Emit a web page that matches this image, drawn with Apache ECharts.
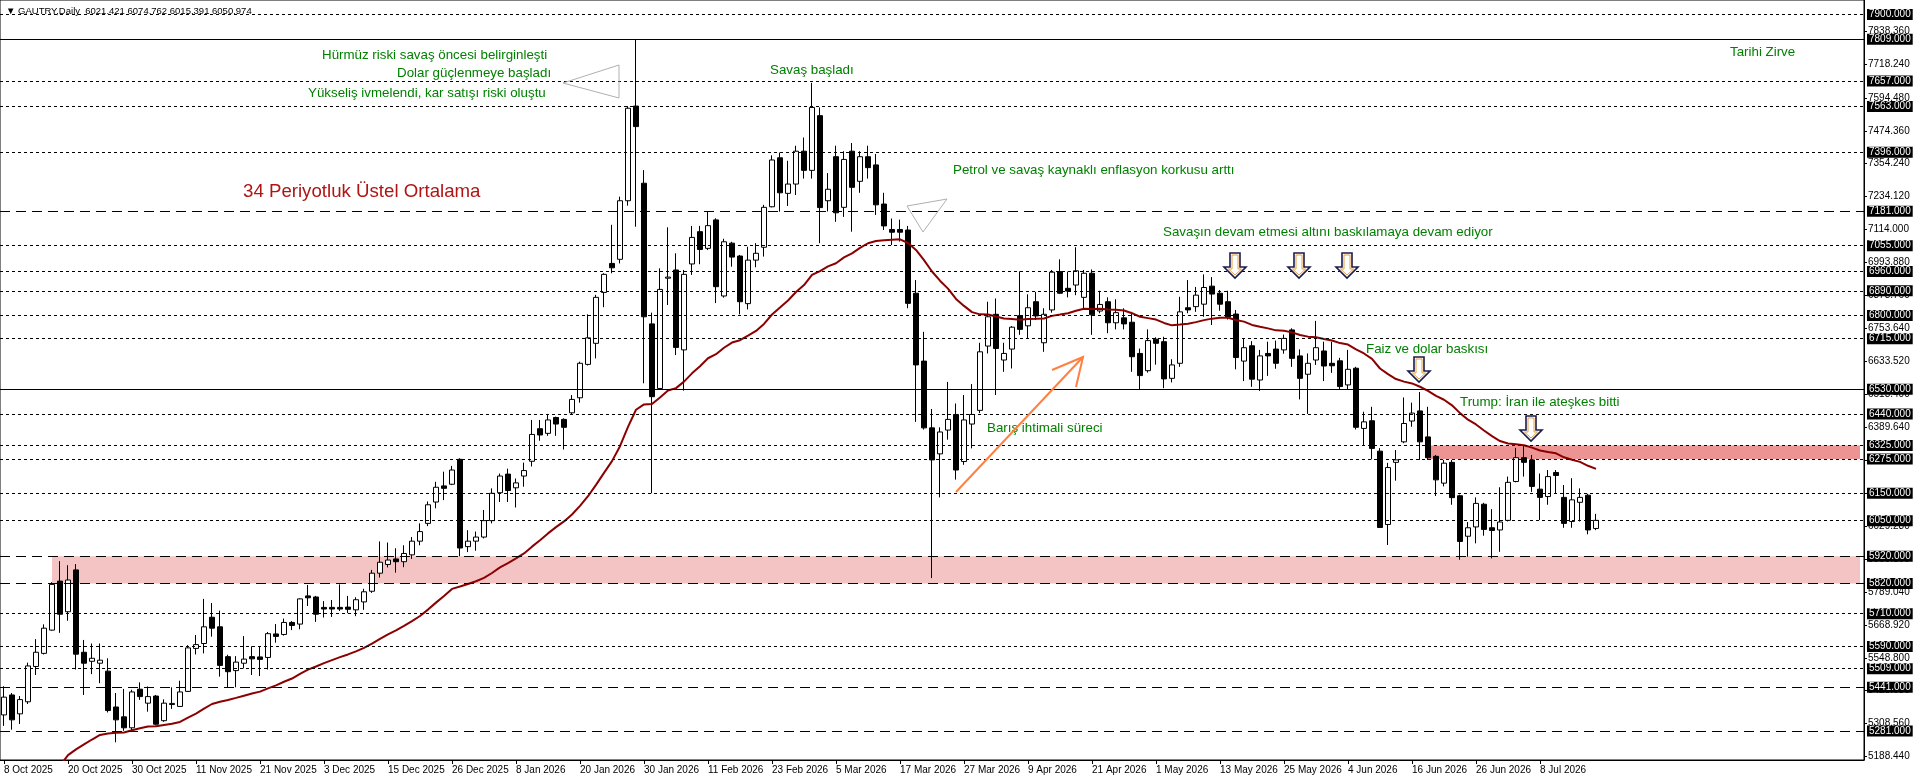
<!DOCTYPE html>
<html>
<head>
<meta charset="utf-8">
<script src="https://cdn.jsdelivr.net/npm/echarts@6/dist/echarts.min.js"></script>
<style>
html,body{margin:0;padding:0;background:#fff;}
#main{width:1916px;height:781px;}
</style>
</head>
<body>
<div id="main"></div>
<script>
// GAUTRY gunluk mumlar
var opens = [5340,5413,5344,5388,5517,5565,5650,5829,5717,5870,5569,5536,5529,5500,5369,5333,5293,5434,5383,5409,
5319,5378,5371,5426,5583,5601,5697,5662,5553,5502,5529,5553,5552,5550,5636,5634,5678,5672,5775,5771,
5733,5733,5733,5734,5724,5753,5792,5858,5890,5910,5900,5925,5975,6040,6118,6177,6183,6274,5955,5975,
5990,6050,6152,6220,6170,6213,6267,6386,6369,6427,6420,6444,6499,6621,6698,6884,6990,7005,7219,7565,
7283,6769,6533,6936,6966,6674,6988,7106,7045,7149,6871,7064,7017,6843,7002,7049,7197,7376,7246,7280,
7400,7330,7530,7219,7380,7195,7400,7290,7380,7350,7207,7114,7114,7112,6881,6633,6389,6294,6381,6438,
6266,6403,6453,6688,6804,6637,6677,6799,6762,6850,6700,6820,6960,6899,6911,6866,6954,6816,6850,6773,
6791,6775,6661,6598,6713,6704,6570,6625,6828,6832,6841,6907,6881,6850,6805,6633,6689,6564,6661,6677,
6674,6747,6652,6585,6637,6670,6625,6634,6546,6607,6387,6415,6304,6036,6263,6338,6414,6451,6356,6285,
6187,6263,6141,5993,6027,6110,6024,6016,6051,6193,6280,6272,6165,6138,6226,6135,6047,6117,6143,6021.421];
var highs = [5445,5420,5409,5531,5617,5671,5825,5902,5887,5891,5614,5601,5601,5547,5420,5435,5432,5459,5444,5413,
5397,5441,5465,5595,5632,5764,5749,5721,5560,5555,5628,5591,5592,5643,5672,5692,5683,5766,5815,5775,
5756,5760,5817,5775,5770,5801,5870,5974,5970,5949,5960,5990,6040,6120,6192,6229,6250,6278,6015,6010,
6089,6168,6222,6240,6204,6262,6418,6418,6440,6430,6424,6509,6631,6804,6875,6954,7131,7234,7565,7809,
7331,6810,6972,7122,7027,6966,7127,7127,7179,7155,7080,7069,7021,7051,7064,7204,7385,7395,7365,7420,
7450,7650,7560,7320,7420,7400,7430,7400,7420,7390,7248,7154,7150,7127,6929,6740,6458,6391,6557,6478,
6509,6549,6700,6850,6862,6700,6761,6961,6877,6886,6826,6966,7005,6960,7049,6966,6968,6890,6866,6859,
6826,6813,6679,6749,6720,6722,6640,6868,6929,6904,6950,6940,6893,6890,6820,6716,6706,6674,6704,6708,
6730,6753,6676,6661,6780,6704,6704,6645,6674,6612,6448,6466,6315,6261,6308,6500,6481,6520,6466,6290,
6272,6272,6145,6045,6135,6115,6092,6172,6211,6316,6325,6290,6222,6235,6235,6180,6205,6168,6148,6074.762];
var lows = [5300,5286,5307,5380,5486,5561,5648,5640,5684,5506,5413,5489,5456,5349,5240,5282,5282,5395,5352,5302,
5315,5362,5371,5424,5561,5565,5626,5480,5441,5441,5510,5486,5482,5506,5604,5630,5650,5653,5738,5680,
5696,5698,5720,5712,5701,5724,5786,5842,5879,5860,5880,5910,5960,6030,6095,6125,6180,5920,5935,5940,
5985,6040,6118,6118,6098,6174,6248,6342,6360,6360,6310,6436,6481,6617,6643,6830,6954,6990,7201,7124,
6552,6150,6530,6838,6655,6525,6948,6987,7039,6845,6865,6978,6804,6822,6976,7015,7195,7179,7200,7240,
7300,7300,7064,7180,7142,7160,7106,7248,7300,7167,7112,7057,7070,6826,6411,6383,5840,6135,6346,6200,
6254,6314,6443,6661,6509,6594,6606,6729,6716,6783,6667,6810,6878,6866,6874,6826,6729,6808,6735,6749,
6749,6594,6530,6591,6620,6534,6555,6612,6808,6813,6795,6765,6817,6785,6603,6560,6539,6524,6579,6605,
6660,6612,6493,6440,6619,6560,6590,6530,6530,6383,6326,6274,6025,5961,6196,6333,6393,6272,6272,6140,
6175,6108,5907,5918,5967,5995,5912,5936,6047,6190,6211,6155,6052,6108,6150,6024,6024,6047,6000,6015.391];
var closes = [5405,5322,5396,5519,5569,5657,5817,5708,5833,5562,5529,5547,5540,5356,5322,5293,5424,5407,5407,5306,
5383,5382,5424,5585,5597,5662,5657,5521,5498,5533,5544,5545,5543,5637,5627,5678,5667,5764,5768,5708,
5727,5727,5727,5726,5761,5790,5858,5898,5906,5900,5930,5975,6010,6108,6172,6168,6235,5950,5975,5990,
6050,6150,6213,6160,6188,6233,6365,6363,6418,6403,6391,6493,6625,6718,6866,6950,6974,7219,7557,7490,
6795,6503,6895,6940,6683,6950,7085,7041,7128,6905,7069,7013,6850,7002,7027,7195,7368,7248,7280,7400,
7330,7560,7194,7261,7175,7370,7268,7380,7340,7204,7127,7104,7104,6844,6619,6389,6272,6374,6420,6235,
6418,6438,6667,6795,6679,6661,6757,6749,6828,6798,6804,6958,6881,6889,6963,6954,6802,6840,6773,6810,
6769,6649,6580,6708,6698,6568,6619,6813,6820,6874,6902,6878,6841,6793,6646,6682,6567,6652,6652,6625,
6716,6643,6570,6625,6682,6615,6616,6540,6603,6391,6411,6314,6025,6244,6272,6405,6443,6338,6280,6199,
6260,6134,5974,6024,6113,6018,6014,6045,6190,6280,6263,6175,6135,6211,6215,6040,6126,6135,6016,6050.974];

var startDate = '2025-10-08';
var holidays = ['2025-12-25', '2026-01-01', '2026-04-03'];
var shiftBars = 33;

// yatay seviyeler
var levelsDot = [7900, 7657, 7563, 7396, 7055, 6960, 6890, 6800, 6715, 6440, 6325, 6275, 6150, 6050, 5710, 5590, 5509];
var levelsDash = [7181, 5920, 5820, 5441, 5281];
var levelsSolid = [7809, 6530];
var priceTicks = [7838.36, 7718.24, 7594.48, 7474.36, 7354.24, 7234.12, 7114.00, 6993.88, 6873.76, 6753.64, 6633.52,
  6513.40, 6389.64, 6269.52, 6149.40, 6029.28, 5909.16, 5789.04, 5668.92, 5548.80, 5428.68, 5308.56, 5188.44];

var emaPeriod = 34;
var emaSeed = 4905;

var months = ['Jan','Feb','Mar','Apr','May','Jun','Jul','Aug','Sep','Oct','Nov','Dec'];
var dates = [];
var d = new Date(startDate + 'T00:00:00Z');
while (dates.length < opens.length) {
  var wd = d.getUTCDay();
  var iso = d.toISOString().slice(0, 10);
  if (wd !== 0 && wd !== 6 && holidays.indexOf(iso) < 0) {
    dates.push(d.getUTCDate() + ' ' + months[d.getUTCMonth()] + ' ' + d.getUTCFullYear());
  }
  d.setUTCDate(d.getUTCDate() + 1);
}
var categories = dates.slice();
for (var s = 0; s < shiftBars; s++) categories.push('_' + s);

var candles = opens.map(function (o, i) { return [o, closes[i], lows[i], highs[i]]; });

// 34 periyot ustel ortalama
var ema = [];
var prev = emaSeed, k = 2 / (emaPeriod + 1);
closes.forEach(function (c) { prev = prev + k * (c - prev); ema.push(+prev.toFixed(2)); });

var FONT = '"Liberation Sans", Arial, sans-serif';
var dotType = [3, 3], dashType = [10, 6];

function levelItem(v, type) {
  return { yAxis: v, lineStyle: { type: type, color: '#000', width: 1 } };
}
var levelData = [];
levelsDot.forEach(function (v) { levelData.push(levelItem(v, dotType)); });
levelsDash.forEach(function (v) { levelData.push(levelItem(v, dashType)); });
levelsSolid.forEach(function (v) { levelData.push(levelItem(v, 'solid')); });

function tickFilter(idx, val) { return idx % 8 === 0 && String(val).charAt(0) !== '_'; }

var last = opens.length - 1;
var header = '\u25BC GAUTRY,Daily  ' + opens[last].toFixed(3) + ' ' + highs[last].toFixed(3) + ' ' +
  lows[last].toFixed(3) + ' ' + closes[last].toFixed(3);

var green = '#008000';
function txt(x, y, text, color, size) {
  return { type: 'text', x: x, y: y, z: 100,
    style: { text: text, fill: color || green, font: (size || 13.33) + 'px ' + FONT, verticalAlign: 'middle', textVerticalAlign: 'middle' } };
}
function downArrow(cx, top) {
  var p = [[-5, 0], [5, 0], [5, 14], [11, 14], [0, 25], [-11, 14], [-5, 14]];
  var q = [[-3, 2], [3, 2], [3, 16], [6.5, 16], [0, 22], [-6.5, 16], [-3, 16]];
  return [
    { type: 'polygon', z: 100, shape: { points: p.map(function (a) { return [cx + a[0], top + a[1]]; }) },
      style: { fill: '#fff', stroke: '#1c1c4c', lineWidth: 1.6 } },
    { type: 'polyline', z: 101, shape: { points: q.concat([q[0]]).map(function (a) { return [cx + a[0], top + a[1]]; }) },
      style: { fill: null, stroke: '#e8a040', lineWidth: 1 } }
  ];
}

var graphics = [
  { type: 'text', x: 6, y: 11, z: 100, style: { text: header, fill: '#000', font: '9.5px ' + FONT, verticalAlign: 'middle', textVerticalAlign: 'middle' } },
  txt(322, 55, 'Hürmüz riski savaş öncesi belirginleşti'),
  txt(397, 73, 'Dolar güçlenmeye başladı'),
  txt(308, 93, 'Yükseliş ivmelendi, kar satışı riski oluştu'),
  txt(770, 70, 'Savaş başladı'),
  txt(1730, 52, 'Tarihi Zirve'),
  txt(243, 192, '34 Periyotluk Üstel Ortalama', '#b01515', 18.67),
  txt(953, 170, 'Petrol ve savaş kaynaklı enflasyon korkusu arttı'),
  txt(1163, 232, 'Savaşın devam etmesi altını baskılamaya devam ediyor'),
  txt(1366, 349, 'Faiz ve dolar baskısı'),
  txt(1460, 402, 'Trump: İran ile ateşkes bitti'),
  txt(987, 428, 'Barış ihtimali süreci'),
  { type: 'polygon', z: 100, shape: { points: [[619, 65], [619, 98], [563, 83]] }, style: { fill: null, stroke: '#b0b0b0', lineWidth: 1 } },
  { type: 'polygon', z: 100, shape: { points: [[907, 206], [947, 199], [923, 232]] }, style: { fill: null, stroke: '#b0b0b0', lineWidth: 1 } },
  { type: 'polyline', z: 100, shape: { points: [[956, 492], [1083, 357]] }, style: { stroke: '#ff8040', lineWidth: 2 } },
  { type: 'polyline', z: 100, shape: { points: [[1052, 370], [1083, 357], [1076, 387]] }, style: { stroke: '#ff8040', lineWidth: 2, fill: null } }
].concat(downArrow(1235, 253), downArrow(1299, 253), downArrow(1347, 253), downArrow(1419, 357), downArrow(1531, 416));

var myChart = echarts.init(document.getElementById('main'));
var option = {
  animation: false,
  backgroundColor: '#fff',
  grid: { left: 0, right: 52, top: 0, bottom: 21, show: true, borderColor: '#000', borderWidth: 1, backgroundColor: 'transparent' },
  xAxis: {
    type: 'category',
    data: categories,
    boundaryGap: true,
    axisLine: { show: true, lineStyle: { color: '#000' } },
    axisTick: { show: true, interval: tickFilter, alignWithLabel: true, length: 4, lineStyle: { color: '#000' } },
    axisLabel: { interval: tickFilter, align: 'left', margin: 5, color: '#000', fontFamily: FONT, fontSize: 10 },
    splitLine: { show: false }
  },
  yAxis: {
    type: 'value',
    position: 'right',
    min: 5175.3,
    max: 7952.6,
    axisLine: { show: true, lineStyle: { color: '#000' } },
    axisTick: { show: true, customValues: priceTicks, length: 3, lineStyle: { color: '#000' } },
    axisLabel: { customValues: priceTicks, formatter: function (v) { return v.toFixed(3); }, color: '#000', fontFamily: FONT, fontSize: 10, margin: 4 },
    splitLine: { show: false }
  },
  series: [
    {
      name: 'zones', type: 'line', data: [], z: 1, silent: true,
      markArea: {
        silent: true,
        data: [
          [{ xAxis: 6, yAxis: 5920, itemStyle: { color: '#f4c4c4' } }, { xAxis: categories.length - 1, yAxis: 5820 }],
          [{ xAxis: 178, yAxis: 6325, itemStyle: { color: '#ec9494' } }, { xAxis: categories.length - 1, yAxis: 6275 }]
        ]
      }
    },
    {
      name: 'GAUTRY', type: 'candlestick', data: candles, barWidth: 5, z: 2,
      itemStyle: { color: '#fff', color0: '#000', borderColor: '#000', borderColor0: '#000', borderWidth: 1 }
    },
    {
      name: 'EMA34', type: 'line', data: ema, z: 3, showSymbol: false, symbol: 'none', silent: true,
      lineStyle: { color: '#8b0000', width: 2 }
    },
    {
      name: 'levels', type: 'line', data: [], z: 4, silent: true,
      markLine: {
        silent: true, symbol: 'none', animation: false,
        label: {
          show: true, position: 'end', distance: 3,
          formatter: function (p) { return (+p.value).toFixed(3); },
          color: '#fff', backgroundColor: '#000', padding: [1, 2, 0, 2],
          fontFamily: FONT, fontSize: 10
        },
        data: levelData
      }
    }
  ],
  graphic: graphics
};
myChart.setOption(option);
window.onresize = function () { myChart.resize(); };
</script>
</body>
</html>
